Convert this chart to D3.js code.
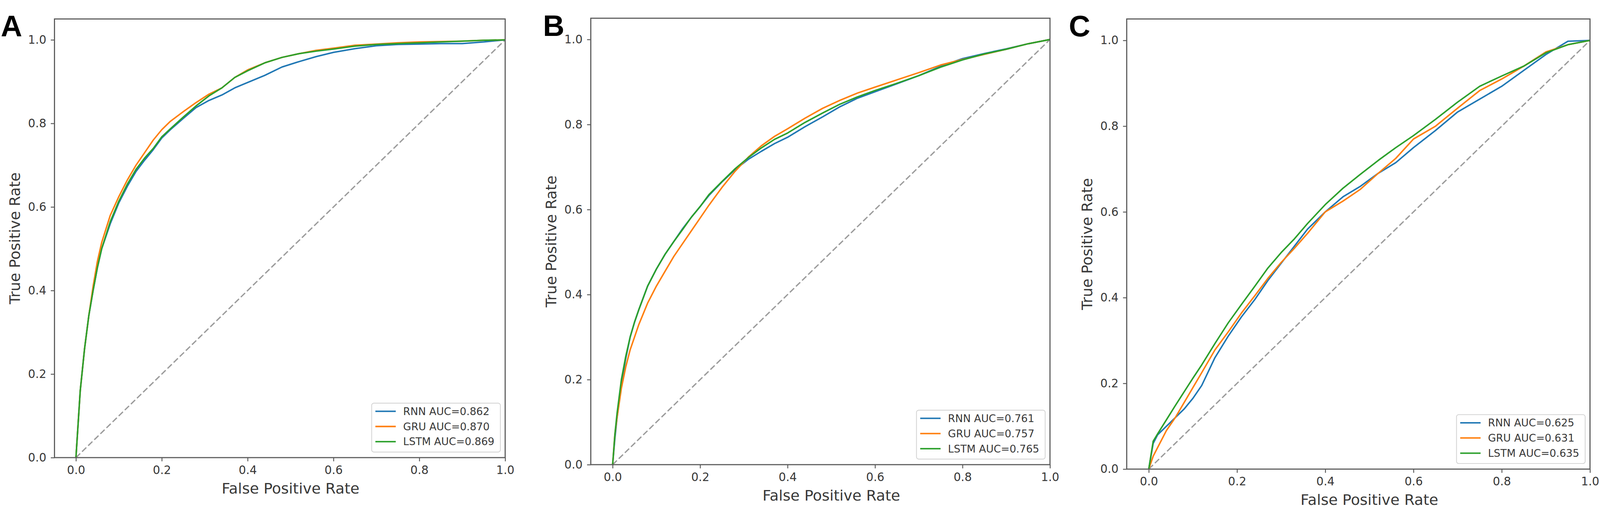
<!DOCTYPE html>
<html>
<head>
<meta charset="utf-8">
<script src="https://cdn.jsdelivr.net/npm/d3@7"></script>
<style>
  html, body { margin: 0; padding: 0; background: #fff; overflow: hidden; }
  svg { display: block; width: 100vw; height: 100vh; }
</style>
</head>
<body>
<div id="chart"></div>
<script>
// ---- data ----
var models = ["RNN", "GRU", "LSTM"];
var tickValues = [0.0, 0.2, 0.4, 0.6, 0.8, 1.0];

// panel A
var fprA = [0, 0.005, 0.01, 0.02, 0.03, 0.04, 0.05, 0.06, 0.08, 0.10, 0.12, 0.14, 0.16, 0.18, 0.20, 0.22, 0.25, 0.28, 0.31, 0.34, 0.37, 0.40, 0.44, 0.48, 0.52, 0.56, 0.60, 0.65, 0.70, 0.75, 0.80, 0.85, 0.90, 0.95, 1.0];
var tprA_RNN  = [0, 0.08, 0.16, 0.26, 0.34, 0.40, 0.455, 0.50, 0.56, 0.61, 0.65, 0.685, 0.712, 0.737, 0.765, 0.785, 0.812, 0.838, 0.855, 0.868, 0.885, 0.898, 0.915, 0.935, 0.948, 0.96, 0.97, 0.979, 0.986, 0.989, 0.99, 0.991, 0.991, 0.995, 1.0];
var tprA_GRU  = [0, 0.08, 0.16, 0.26, 0.34, 0.41, 0.47, 0.515, 0.58, 0.625, 0.665, 0.70, 0.73, 0.76, 0.785, 0.805, 0.828, 0.85, 0.87, 0.885, 0.91, 0.928, 0.945, 0.958, 0.967, 0.975, 0.98, 0.987, 0.99, 0.993, 0.995, 0.996, 0.997, 0.999, 1.0];
var tprA_LSTM = [0, 0.08, 0.16, 0.26, 0.34, 0.40, 0.455, 0.50, 0.565, 0.614, 0.655, 0.69, 0.717, 0.74, 0.768, 0.787, 0.815, 0.842, 0.866, 0.885, 0.91, 0.926, 0.945, 0.958, 0.967, 0.973, 0.978, 0.985, 0.989, 0.991, 0.993, 0.995, 0.997, 0.999, 1.0];
var aucA = [0.862, 0.870, 0.869];

// panel B
var fprB = [0, 0.005, 0.01, 0.02, 0.03, 0.04, 0.05, 0.06, 0.08, 0.10, 0.12, 0.14, 0.16, 0.18, 0.20, 0.22, 0.25, 0.28, 0.31, 0.34, 0.37, 0.40, 0.44, 0.48, 0.52, 0.56, 0.60, 0.65, 0.70, 0.75, 0.80, 0.85, 0.90, 0.95, 1.0];
var tprB_RNN  = [0, 0.06, 0.11, 0.19, 0.25, 0.30, 0.335, 0.365, 0.42, 0.46, 0.495, 0.525, 0.555, 0.582, 0.607, 0.633, 0.665, 0.694, 0.718, 0.737, 0.755, 0.77, 0.795, 0.818, 0.842, 0.862, 0.877, 0.896, 0.915, 0.937, 0.955, 0.967, 0.978, 0.99, 1.0];
var tprB_GRU  = [0, 0.07, 0.11, 0.18, 0.23, 0.27, 0.30, 0.33, 0.38, 0.42, 0.455, 0.49, 0.52, 0.55, 0.58, 0.61, 0.652, 0.69, 0.723, 0.75, 0.772, 0.79, 0.815, 0.838, 0.857, 0.874, 0.888, 0.905, 0.922, 0.94, 0.953, 0.965, 0.977, 0.99, 1.0];
var tprB_LSTM = [0, 0.07, 0.12, 0.20, 0.255, 0.30, 0.335, 0.365, 0.42, 0.46, 0.495, 0.525, 0.553, 0.582, 0.607, 0.635, 0.666, 0.696, 0.722, 0.745, 0.765, 0.78, 0.805, 0.827, 0.848, 0.865, 0.88, 0.897, 0.915, 0.935, 0.952, 0.966, 0.977, 0.99, 1.0];
var aucB = [0.761, 0.757, 0.765];

// panel C
var fprC = [0, 0.01, 0.02, 0.04, 0.06, 0.08, 0.10, 0.12, 0.15, 0.18, 0.21, 0.24, 0.27, 0.30, 0.33, 0.36, 0.40, 0.44, 0.48, 0.52, 0.56, 0.60, 0.65, 0.70, 0.75, 0.80, 0.85, 0.90, 0.95, 1.0];
var tprC_RNN  = [0, 0.06, 0.08, 0.10, 0.12, 0.14, 0.165, 0.195, 0.26, 0.31, 0.355, 0.395, 0.44, 0.48, 0.52, 0.56, 0.60, 0.635, 0.66, 0.69, 0.715, 0.75, 0.79, 0.833, 0.863, 0.893, 0.93, 0.967, 0.998, 1.0];
var tprC_GRU  = [0, 0.03, 0.05, 0.09, 0.12, 0.155, 0.19, 0.225, 0.278, 0.32, 0.364, 0.404, 0.445, 0.482, 0.515, 0.55, 0.60, 0.625, 0.653, 0.69, 0.725, 0.77, 0.80, 0.842, 0.883, 0.91, 0.94, 0.973, 0.99, 1.0];
var tprC_LSTM = [0, 0.065, 0.082, 0.115, 0.148, 0.18, 0.212, 0.243, 0.293, 0.341, 0.384, 0.426, 0.469, 0.505, 0.537, 0.573, 0.617, 0.655, 0.688, 0.72, 0.75, 0.778, 0.816, 0.856, 0.893, 0.917, 0.94, 0.971, 0.99, 1.0];
var aucC = [0.625, 0.631, 0.635];

// ---- layout ----
var W = 4317, H = 1342;
var colors = ["#1f77b4", "#ff7f0e", "#2ca02c"];
var panels = [
  {label: "A", lx: 2,    ly: 62, left: 147,  right: 1363, top: 15, bottom: 1199,
   fpr: fprA, tpr: [tprA_RNN, tprA_GRU, tprA_LSTM], auc: aucA},
  {label: "B", lx: 1465, ly: 61, left: 1594, right: 2833, top: 13, bottom: 1218,
   fpr: fprB, tpr: [tprB_RNN, tprB_GRU, tprB_LSTM], auc: aucB},
  {label: "C", lx: 2884, ly: 62, left: 3040, right: 4290, top: 15, bottom: 1230,
   fpr: fprC, tpr: [tprC_RNN, tprC_GRU, tprC_LSTM], auc: aucC}
];

// scale the whole drawing to whatever viewport the page gets
var svg = d3.select("#chart")
    .append("svg")
    .attr("viewBox", "0 0 " + W + " " + H)
    .attr("preserveAspectRatio", "xMidYMid meet");

var textColor = "#383838";
var spineColor = "#5a5a5a";

panels.forEach(function(p) {
    var x = d3.scaleLinear().domain([-0.05, 1.0]).range([p.left, p.right]);
    var y = d3.scaleLinear().domain([0, 1.05]).range([p.bottom, p.top]);

    var g = svg.append("g");

    // diagonal reference line
    g.append("path")
        .attr("d", d3.line()([[x(0), y(0)], [x(1), y(1)]]))
        .attr("fill", "none")
        .attr("stroke", "#9b9b9b")
        .attr("stroke-width", 3.5)
        .attr("stroke-dasharray", "16,7");

    // ROC curves
    var line = d3.line()
        .x(function(d) { return x(d[0]); })
        .y(function(d) { return y(d[1]); });
    p.tpr.forEach(function(t, i) {
        var pts = p.fpr.map(function(f, j) { return [f, t[j]]; });
        g.append("path")
            .attr("d", line(pts))
            .attr("fill", "none")
            .attr("stroke", colors[i])
            .attr("stroke-width", 4)
            .attr("stroke-linejoin", "round");
    });

    // spines
    g.append("rect")
        .attr("x", p.left).attr("y", p.top)
        .attr("width", p.right - p.left).attr("height", p.bottom - p.top)
        .attr("fill", "none")
        .attr("stroke", spineColor)
        .attr("stroke-width", 3);

    // axes
    var xAxis = g.append("g")
        .attr("transform", "translate(0," + p.bottom + ")")
        .call(d3.axisBottom(x).tickValues(tickValues).tickFormat(d3.format(".1f")).tickSize(10).tickPadding(12));
    var yAxis = g.append("g")
        .attr("transform", "translate(" + p.left + ",0)")
        .call(d3.axisLeft(y).tickValues(tickValues).tickFormat(d3.format(".1f")).tickSize(10).tickPadding(12));
    [xAxis, yAxis].forEach(function(a) {
        a.select(".domain").remove();
        a.selectAll(".tick line").attr("stroke", spineColor).attr("stroke-width", 2.5);
        a.selectAll(".tick text")
            .attr("fill", textColor)
            .style("font-family", "DejaVu Sans")
            .style("font-size", "31px");
    });

    // axis titles
    g.append("text")
        .attr("x", (x(0) + x(1)) / 2)
        .attr("y", p.bottom + 97)
        .attr("text-anchor", "middle")
        .attr("fill", textColor)
        .style("font-family", "DejaVu Sans")
        .style("font-size", "40px")
        .text("False Positive Rate");
    g.append("text")
        .attr("transform", "translate(" + (p.left - 93) + "," + ((p.top + p.bottom) / 2) + ")rotate(-90)")
        .attr("text-anchor", "middle")
        .attr("fill", textColor)
        .style("font-family", "DejaVu Sans")
        .style("font-size", "40px")
        .text("True Positive Rate");

    // legend
    var lg = g.append("g");
    var box = lg.append("rect")
        .attr("fill", "#fff")
        .attr("fill-opacity", 0.85)
        .attr("stroke", "#d0d0d0")
        .attr("stroke-width", 2)
        .attr("rx", 6);
    var items = lg.selectAll("g.item")
        .data(models)
        .enter().append("g")
        .attr("class", "item")
        .attr("transform", function(d, i) { return "translate(0," + (22 + i * 41) + ")"; });
    items.append("line")
        .attr("x1", 10).attr("x2", 65)
        .attr("stroke", function(d, i) { return colors[i]; })
        .attr("stroke-width", 4);
    var labels = items.append("text")
        .attr("x", 85)
        .attr("dy", "0.35em")
        .attr("fill", textColor)
        .style("font-family", "DejaVu Sans")
        .style("font-size", "28px")
        .text(function(d, i) { return d + " AUC=" + d3.format(".3f")(p.auc[i]); });
    var maxW = d3.max(labels.nodes(), function(n) { return n.getComputedTextLength(); });
    var bw = 85 + maxW + 16, bh = 132;
    box.attr("width", bw).attr("height", bh);
    lg.attr("transform", "translate(" + (p.right - 13 - bw) + "," + (p.bottom - 15 - bh) + ")");

    // panel letter
    svg.append("text")
        .attr("x", p.lx)
        .attr("y", p.ly)
        .attr("fill", "#000")
        .style("font-family", "Liberation Sans, Arial, sans-serif")
        .style("font-weight", "bold")
        .style("font-size", "80px")
        .text(p.label);
});
</script>
</body>
</html>
